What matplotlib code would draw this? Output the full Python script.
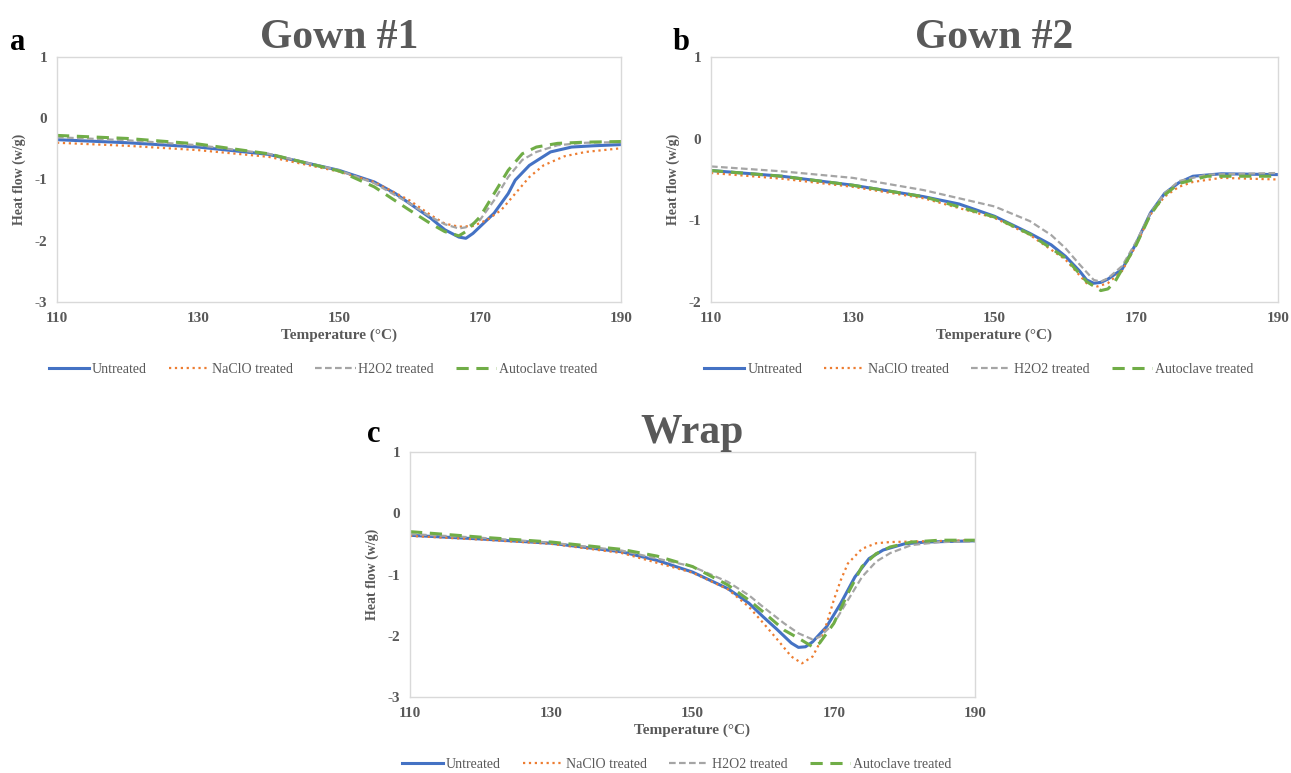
import matplotlib
matplotlib.use("Agg")
from matplotlib import pyplot as plt
import numpy as np

plt.rcParams['font.family'] = ['Liberation Serif', 'DejaVu Serif']
plt.rcParams['axes.unicode_minus'] = False

series_names = ['Untreated', 'NaClO treated', 'H2O2 treated', 'Autoclave treated']

# Gown #1
a_untreated_x = [110, 120, 130, 140, 150, 155, 158, 160, 163, 165, 167, 168, 169, 170, 172, 174, 175, 177, 180, 183, 186, 190]
a_untreated_y = [-0.35, -0.40, -0.47, -0.59, -0.85, -1.04, -1.23, -1.39, -1.63, -1.82, -1.94, -1.96, -1.88, -1.77, -1.55, -1.23, -1.01, -0.77, -0.55, -0.47, -0.45, -0.43]
a_naclo_x = [110, 120, 130, 140, 150, 155, 160, 163, 165, 167, 169, 171, 173, 175, 177, 179, 182, 185, 190]
a_naclo_y = [-0.40, -0.45, -0.52, -0.63, -0.87, -1.04, -1.34, -1.58, -1.72, -1.77, -1.76, -1.66, -1.50, -1.23, -0.96, -0.77, -0.62, -0.55, -0.49]
a_h2o2_x = [110, 120, 130, 140, 150, 155, 160, 163, 165, 167, 168, 170, 172, 174, 176, 178, 181, 185, 190]
a_h2o2_y = [-0.31, -0.36, -0.44, -0.58, -0.85, -1.06, -1.39, -1.61, -1.73, -1.80, -1.78, -1.66, -1.34, -0.96, -0.68, -0.55, -0.44, -0.40, -0.39]
a_auto_x = [110, 120, 130, 140, 150, 155, 160, 163, 165, 167, 168, 170, 172, 174, 176, 178, 181, 185, 190]
a_auto_y = [-0.28, -0.33, -0.42, -0.58, -0.86, -1.12, -1.50, -1.72, -1.85, -1.92, -1.85, -1.61, -1.23, -0.85, -0.58, -0.47, -0.41, -0.39, -0.38]

# Gown #2
b_untreated_x = [110, 120, 130, 140, 145, 150, 155, 158, 160, 162, 163, 164, 165, 166, 168, 170, 172, 174, 176, 178, 182, 190]
b_untreated_y = [-0.39, -0.46, -0.57, -0.71, -0.80, -0.95, -1.16, -1.30, -1.44, -1.62, -1.73, -1.77, -1.76, -1.72, -1.60, -1.28, -0.91, -0.67, -0.54, -0.46, -0.43, -0.44]
b_naclo_x = [110, 120, 130, 140, 150, 155, 160, 163, 164.5, 166, 168, 170, 172, 174, 176, 178, 182, 190]
b_naclo_y = [-0.42, -0.49, -0.59, -0.73, -0.97, -1.18, -1.48, -1.77, -1.81, -1.77, -1.62, -1.30, -0.93, -0.71, -0.59, -0.53, -0.48, -0.50]
b_h2o2_x = [110, 120, 130, 140, 150, 155, 158, 160, 162, 164, 165, 166, 168, 170, 172, 174, 176, 180, 190]
b_h2o2_y = [-0.34, -0.40, -0.48, -0.63, -0.83, -1.01, -1.18, -1.34, -1.54, -1.73, -1.75, -1.71, -1.56, -1.26, -0.91, -0.67, -0.52, -0.44, -0.42]
b_auto_x = [110, 120, 130, 140, 150, 155, 160, 163, 165, 166, 167, 168, 170, 172, 174, 176, 180, 190]
b_auto_y = [-0.39, -0.46, -0.57, -0.71, -0.96, -1.17, -1.46, -1.75, -1.86, -1.84, -1.75, -1.60, -1.30, -0.93, -0.69, -0.55, -0.46, -0.46]

# Wrap
c_untreated_x = [110, 120, 130, 140, 145, 150, 155, 158, 160, 162, 164, 165, 166, 167, 169, 171, 173, 175, 177, 180, 183, 190]
c_untreated_y = [-0.36, -0.42, -0.49, -0.63, -0.77, -0.96, -1.23, -1.47, -1.69, -1.90, -2.12, -2.19, -2.18, -2.10, -1.85, -1.47, -1.04, -0.74, -0.60, -0.50, -0.47, -0.45]
c_naclo_x = [110, 120, 130, 140, 150, 155, 158, 160, 162, 164, 165.5, 167, 168, 169, 170, 171, 172, 174, 176, 178, 190]
c_naclo_y = [-0.37, -0.43, -0.50, -0.65, -0.97, -1.24, -1.53, -1.79, -2.06, -2.34, -2.45, -2.34, -2.12, -1.80, -1.42, -1.09, -0.82, -0.58, -0.49, -0.47, -0.44]
c_h2o2_x = [110, 120, 130, 140, 150, 155, 158, 160, 163, 165, 167, 168, 170, 172, 174, 176, 178, 181, 185, 190]
c_h2o2_y = [-0.34, -0.40, -0.48, -0.61, -0.87, -1.12, -1.34, -1.53, -1.80, -1.96, -2.06, -2.02, -1.80, -1.42, -1.04, -0.79, -0.65, -0.52, -0.47, -0.46]
c_auto_x = [110, 120, 130, 140, 145, 150, 155, 158, 160, 163, 165, 167, 168, 170, 172, 174, 176, 178, 181, 185, 190]
c_auto_y = [-0.30, -0.39, -0.47, -0.59, -0.70, -0.87, -1.17, -1.42, -1.61, -1.91, -2.04, -2.18, -2.12, -1.80, -1.31, -0.87, -0.66, -0.55, -0.47, -0.44, -0.44]

x_ticks = [110, 130, 150, 170, 190]
colors = ['#4472C4', '#ED7D31', '#A5A5A5', '#70AD47']
styles = ['-', ':', (0, (3, 1.5)), (0, (4, 2.5))]
widths = [2.2, 1.6, 1.6, 2.2]
gray_text = '#595959'


def draw_panel(rect, title, letter, letter_xy, data, ylim):
    ax = fig.add_axes(rect)
    for i, (xs, ys) in enumerate(data):
        ax.plot(xs, ys, color=colors[i], linestyle=styles[i], linewidth=widths[i], label=series_names[i])
    ax.set_xlim(110, 190)
    ax.set_ylim(*ylim)
    ax.set_xticks(x_ticks)
    ax.set_yticks(np.arange(ylim[0], ylim[1] + 1, 1))
    ax.tick_params(length=0, labelsize=11, colors=gray_text, pad=7)
    for lab in ax.get_xticklabels() + ax.get_yticklabels():
        lab.set_fontweight('bold')
    for s in ax.spines.values():
        s.set_color('#d9d9d9')
        s.set_linewidth(1)
    ax.set_xlabel('Temperature (°C)', fontsize=11, fontweight='bold', color=gray_text, labelpad=3)
    ax.set_ylabel('Heat flow (w/g)', fontsize=10, fontweight='bold', color=gray_text, labelpad=6)
    ax.set_title(title, fontsize=30, fontweight='bold', color=gray_text, pad=6)
    leg = ax.legend(loc='center', bbox_to_anchor=(0.472, -0.275), ncol=4, frameon=False,
                    handlelength=2.9, columnspacing=1.6, handletextpad=0.2, fontsize=10)
    for t in leg.get_texts():
        t.set_color(gray_text)
    fig.text(letter_xy[0] / 1291, 1 - letter_xy[1] / 773, letter, fontsize=22,
             fontweight='bold', ha='center', va='center')
    return ax


fig = plt.figure(figsize=(12.91, 7.73), dpi=100)

draw_panel([57 / 1291, 1 - 302 / 773, 564 / 1291, 245 / 773], 'Gown #1', 'a', (18, 42),
           [(a_untreated_x, a_untreated_y), (a_naclo_x, a_naclo_y),
            (a_h2o2_x, a_h2o2_y), (a_auto_x, a_auto_y)], (-3, 1))
draw_panel([711 / 1291, 1 - 302 / 773, 567 / 1291, 245 / 773], 'Gown #2', 'b', (681, 42),
           [(b_untreated_x, b_untreated_y), (b_naclo_x, b_naclo_y),
            (b_h2o2_x, b_h2o2_y), (b_auto_x, b_auto_y)], (-2, 1))
draw_panel([410 / 1291, 1 - 697 / 773, 565 / 1291, 245 / 773], 'Wrap', 'c', (374, 435),
           [(c_untreated_x, c_untreated_y), (c_naclo_x, c_naclo_y),
            (c_h2o2_x, c_h2o2_y), (c_auto_x, c_auto_y)], (-3, 1))

fig.savefig('out.png', dpi=100)
